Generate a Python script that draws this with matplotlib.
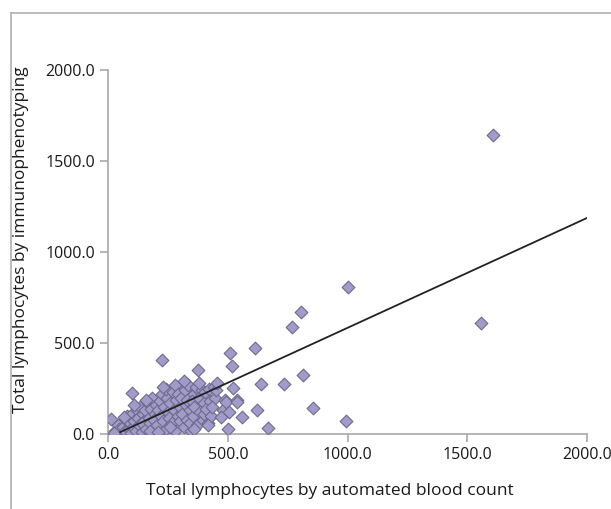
import matplotlib
matplotlib.use("Agg")
import matplotlib.pyplot as plt
from matplotlib.lines import Line2D

# automated blood count (x) vs immunophenotyping (y)
x_count = [10, 30, 40, 50, 45, 25,
           60, 70, 75, 80, 85, 90, 95, 100, 100, 65,
           105, 110, 115, 120, 125, 130, 135, 140, 145, 150, 110, 140,
           155, 160, 165, 170, 175, 180, 185, 190, 195, 200, 160, 175, 190,
           205, 210, 215, 220, 225, 225, 230, 235, 240, 245, 250, 210, 240, 230,
           255, 260, 265, 270, 275, 280, 285, 290, 295, 300, 260, 280, 300, 290,
           305, 310, 315, 320, 325, 330, 335, 340, 345, 350, 315, 340, 330, 350,
           355, 360, 365, 370, 375, 380, 385, 390, 395, 400, 360, 380, 400,
           405, 410, 415, 420, 425, 430, 440, 445, 450, 418, 435,
           455, 480, 488, 493, 509, 518, 522, 538, 539, 559, 505, 470, 500,
           614, 622, 639, 668, 735, 768, 806, 812, 856, 994, 1002, 1555, 1605]
y_immuno = [85, 20, 50, 10, 30, 5,
            40, 15, 80, 100, 30, 60, 5, 225, 110, 95,
            40, 70, 20, 130, 90, 50, 150, 10, 110, 75, 160, 60,
            130, 30, 170, 90, 60, 140, 200, 20, 110, 160, 190, 15, 80,
            50, 130, 180, 100, 405, 220, 70, 150, 30, 200, 120, 10, 250, 260,
            90, 170, 60, 230, 130, 20, 190, 100, 260, 150, 40, 270, 70, 220,
            200, 110, 40, 240, 160, 80, 270, 130, 20, 210, 290, 60, 190, 180,
            100, 150, 260, 50, 350, 200, 120, 240, 80, 170, 30, 280, 110,
            230, 140, 60, 250, 180, 100, 260, 200, 240, 49, 150,
            280, 132, 187, 176, 445, 374, 253, 187, 176, 93, 120, 95, 30,
            475, 132, 275, 33, 278, 588, 670, 327, 145, 74, 810, 612, 1640]

# trend line end points
line_x = [50, 2000]
line_y = [11, 1187]

ticks = [0, 500, 1000, 1500, 2000]
tick_labels = ["0.0", "500.0", "1000.0", "1500.0", "2000.0"]

plt.rcParams['font.family'] = ['Open Sans', 'DejaVu Sans']

fig = plt.figure(figsize=(6.11, 5.09), dpi=100)
ax = fig.add_axes([0.177, 0.147, 0.784, 0.716])

ax.scatter(x_count, y_immuno, marker='D', s=42, facecolor='#a19bc9',
           edgecolor='#6f6a8c', linewidth=0.8, zorder=3)
ax.plot(line_x, line_y, color='#222222', linewidth=1.3, zorder=4)

ax.set_xlim(0, 2000)
ax.set_ylim(0, 2000)
ax.set_xticks(ticks)
ax.set_xticklabels(tick_labels)
ax.set_yticks(ticks)
ax.set_yticklabels(tick_labels)

for s in ['top', 'right']:
    ax.spines[s].set_visible(False)
for s in ['left', 'bottom']:
    ax.spines[s].set_color('#a8a8a8')
    ax.spines[s].set_linewidth(1.2)
ax.tick_params(colors='#a8a8a8', labelcolor='#1a1a1a', labelsize=11.5,
               length=6, width=1.2)
ax.set_clip_on(False)

ax.set_xlabel("Total lymphocytes by automated blood count", fontsize=12.5,
              color='#1a1a1a')
ax.set_ylabel("Total lymphocytes by immunophenotyping", fontsize=12.5,
              color='#1a1a1a')
ax.xaxis.set_label_coords(0.463, -0.135)
ax.yaxis.set_label_coords(-0.165, 0.533)

# thin frame on top and left of the picture
fig.add_artist(Line2D([0.018, 1.0], [0.974, 0.974], color='#b0b0b0', linewidth=1.2))
fig.add_artist(Line2D([0.018, 0.018], [0.0, 0.974], color='#b0b0b0', linewidth=1.2))

fig.savefig("out.png", dpi=100)
